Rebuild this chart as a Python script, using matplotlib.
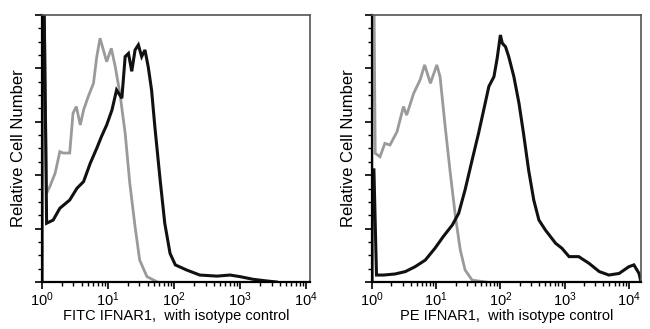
import numpy as np
import matplotlib
matplotlib.use("Agg")
import matplotlib.pyplot as plt
from matplotlib.ticker import LogLocator, MultipleLocator, NullFormatter

plt.rcParams["font.family"] = ["Liberation Sans", "DejaVu Sans"]
plt.rcParams["mathtext.fontset"] = "custom"
plt.rcParams["mathtext.rm"] = "Liberation Sans"
plt.rcParams["mathtext.it"] = "Liberation Sans:italic"

# FITC panel: histogram outlines as (log10 intensity, relative count)
fitc_iso_log = [0.0, 0.0, 0.03, 0.07, 0.12, 0.20, 0.27, 0.32, 0.42, 0.47, 0.52, 0.58,
                0.63, 0.70, 0.78, 0.83, 0.88, 0.93, 0.98, 1.05, 1.11, 1.18, 1.26,
                1.33, 1.41, 1.48, 1.59, 1.74]
fitc_iso_cnt = [0.0, 110, 110, 33.2, 35.8, 40.8, 48.8, 48.3, 48.3, 63.2, 65.7, 58.8,
                64.4, 69.4, 74.4, 84.4, 91.3, 86.9, 82.5, 87.5, 80.6, 70.7, 55.7,
                37.0, 20.7, 8.2, 2.0, 0.1]
fitc_ab_log = [0.0, 0.0, 0.03, 0.07, 0.17, 0.27, 0.42, 0.53, 0.63, 0.73, 0.83, 0.90,
               0.98, 1.06, 1.13, 1.21, 1.26, 1.31, 1.36, 1.41, 1.46, 1.51, 1.56,
               1.61, 1.66, 1.71, 1.79, 1.86, 1.94, 2.02, 2.19, 2.39, 2.65, 2.85,
               3.00, 3.20, 3.40, 3.55]
fitc_ab_cnt = [0.0, 110, 110, 22.0, 23.2, 27.6, 30.7, 35.1, 37.6, 44.4, 50.1, 54.4,
               58.8, 64.4, 71.9, 68.8, 84.4, 85.6, 78.9, 86.9, 88.8, 84.4, 86.9,
               80.5, 71.9, 58.1, 38.2, 22.0, 10.7, 6.4, 4.5, 2.6, 2.2, 2.6,
               2.0, 1.0, 0.4, 0.0]

# PE panel
pe_iso_log = [0.0, 0.0, 0.03, 0.05, 0.125, 0.20, 0.28, 0.39, 0.49, 0.54, 0.65, 0.75,
              0.82, 0.91, 1.01, 1.06, 1.14, 1.22, 1.30, 1.375, 1.45, 1.56, 1.77]
pe_iso_cnt = [0.0, 110, 110, 48.2, 46.9, 51.9, 51.3, 56.3, 65.7, 62.5, 70.7, 75.7,
              81.3, 74.4, 81.3, 76.9, 58.2, 40.7, 24.5, 12.0, 4.5, 0.7, 0.0]
pe_ab_log = [0.0, 0.0, 0.03, 0.07, 0.18, 0.36, 0.52, 0.67, 0.83, 0.98, 1.11, 1.25,
             1.35, 1.45, 1.56, 1.66, 1.74, 1.82, 1.90, 1.95, 2.00, 2.03, 2.08,
             2.13, 2.21, 2.29, 2.36, 2.44, 2.52, 2.60, 2.70, 2.86, 2.96, 3.07,
             3.22, 3.38, 3.54, 3.69, 3.85, 4.00, 4.08, 4.16, 4.19]
pe_ab_cnt = [0.0, 42, 42, 2.6, 2.6, 3.0, 3.9, 5.7, 8.2, 12.6, 17.0, 21.3,
             25.7, 34.5, 45.7, 55.7, 64.4, 73.2, 76.9, 83.8, 92.5, 89.4, 88.1,
             84.4, 76.9, 66.9, 55.7, 41.9, 30.7, 23.2, 19.5, 14.5, 12.6, 9.5,
             9.5, 7.0, 3.9, 2.6, 3.2, 5.7, 6.4, 3.2, 0.0]

x_labels = ["FITC IFNAR1,  with isotype control", "PE IFNAR1,  with isotype control"]
y_label = "Relative Cell Number"
x_max_log = [4.06, 4.19]

iso_color = "#9a9a9a"
ab_color = "#111111"

fig = plt.figure(figsize=(6.5, 3.29), dpi=100)
axes = [fig.add_axes([0.0646, 0.1429, 0.4123, 0.8116]),
        fig.add_axes([0.5723, 0.1429, 0.4138, 0.8116])]

panels = [(fitc_iso_log, fitc_iso_cnt, fitc_ab_log, fitc_ab_cnt),
          (pe_iso_log, pe_iso_cnt, pe_ab_log, pe_ab_cnt)]

for ax, (il, ic, al, ac), xl, xm in zip(axes, panels, x_labels, x_max_log):
    ax.plot(10 ** np.array(il), ic, color=iso_color, lw=2.0, solid_joinstyle="miter")
    ax.plot(10 ** np.array(al), ac, color=ab_color, lw=2.2, solid_joinstyle="miter")
    ax.set_xscale("log")
    ax.set_xlim(1, 10 ** xm)
    ax.set_ylim(0, 100)

    ax.xaxis.set_major_locator(LogLocator(base=10, numticks=10))
    ax.xaxis.set_minor_locator(LogLocator(base=10, subs=np.arange(2, 10), numticks=10))
    ax.xaxis.set_minor_formatter(NullFormatter())
    ax.yaxis.set_major_locator(MultipleLocator(20))
    ax.yaxis.set_minor_locator(MultipleLocator(5))
    ax.set_yticklabels([])

    ax.tick_params(axis="both", which="major", direction="out", length=5,
                   width=1.2, color="black", labelsize=10.5, pad=1)
    ax.tick_params(axis="both", which="minor", direction="out", length=3,
                   width=1.0, color="black")

    for side in ("left", "bottom"):
        ax.spines[side].set_color("black")
        ax.spines[side].set_linewidth(1.6)
    for side in ("top", "right"):
        ax.spines[side].set_color("#555555")
        ax.spines[side].set_linewidth(1.2)

    ax.set_xlabel(xl, fontsize=10.5, labelpad=0)
    ax.set_ylabel(y_label, fontsize=12, labelpad=5)

fig.savefig("out.png", dpi=100)
